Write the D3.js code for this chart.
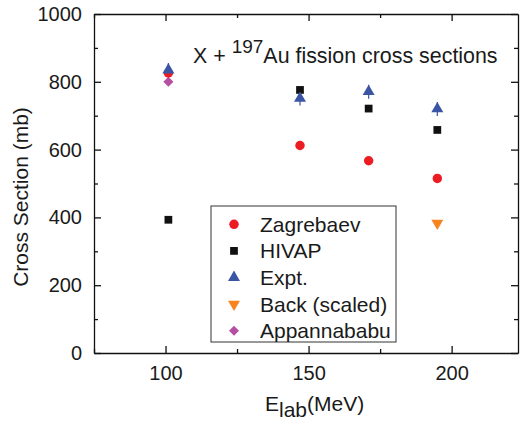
<!DOCTYPE html>
<html lang="en">
<head>
  <meta charset="UTF-8">
  <title>Au fission cross sections</title>
  <style type="text/css">
    body{
      margin: 0;
      background: #fff;
      font-family: "Liberation Sans", Arial, sans-serif;
    }
    .axis path,
    .axis line{
      stroke: #111;
      stroke-width: 1.3px;
      fill: none;
    }
    .axis text{
      font-size: 20px;
      fill: #1a1a1a;
    }
    .label{
      font-size: 21px;
      fill: #1a1a1a;
    }
    .legend text{
      font-size: 21px;
      fill: #1a1a1a;
    }
  </style>
  <script type="text/javascript" src="https://d3js.org/d3.v7.min.js"></script>
</head>
<body>
<script type="text/javascript">
  // values
  var zagX = [101, 147, 171, 195];
  var zagY = [826, 612, 567, 515];
  var hivapX = [101, 147, 171, 195];
  var hivapY = [393, 776, 721, 658];
  var exptX = [101, 147, 171, 195];
  var exptY = [835, 751, 771, 720];
  var backX = [195];
  var backY = [383];
  var appX = [101];
  var appY = [800];

  var xTicks = [100, 150, 200];
  var xMinor = [75, 125, 175, 225];
  var yTicks = [0, 200, 400, 600, 800, 1000];
  var yMinor = [100, 300, 500, 700, 900];

  var seriesNames = ['Zagrebaev', 'HIVAP', 'Expt.', 'Back (scaled)', 'Appannababu'];

  var width = 520, height = 424;
  var plotL = 94, plotR = 518, plotT = 14, plotB = 353;

  var svg = d3.select('body')
    .append('svg')
    .attr('width', width)
    .attr('height', height);

  var xScale = d3.scaleLinear().domain([75, 223.2]).range([plotL, plotR]);
  var yScale = d3.scaleLinear().domain([0, 1000]).range([plotB, plotT]);

  function drawAxis(axis, tr, minorAxis, showText){
    var g = svg.append('g')
      .attr('class', 'axis')
      .attr('transform', tr)
      .call(axis);
    if (!showText) g.selectAll('text').remove();
    svg.append('g')
      .attr('class', 'axis')
      .attr('transform', tr)
      .call(minorAxis)
      .call(function(s){ s.select('.domain').remove(); s.selectAll('text').remove(); });
    return g;
  }

  // bottom / top
  drawAxis(d3.axisBottom(xScale).tickValues(xTicks).tickSizeInner(-7).tickSizeOuter(0).tickPadding(13),
    'translate(0,' + plotB + ')',
    d3.axisBottom(xScale).tickValues(xMinor).tickSizeInner(-4).tickSizeOuter(0), true);
  drawAxis(d3.axisTop(xScale).tickValues(xTicks).tickSizeInner(-7).tickSizeOuter(0),
    'translate(0,' + plotT + ')',
    d3.axisTop(xScale).tickValues(xMinor).tickSizeInner(-4).tickSizeOuter(0), false);
  // left / right
  drawAxis(d3.axisLeft(yScale).tickValues(yTicks).tickSizeInner(-7).tickSizeOuter(0).tickPadding(12).tickFormat(d3.format('d')),
    'translate(' + plotL + ',0)',
    d3.axisLeft(yScale).tickValues(yMinor).tickSizeInner(-4).tickSizeOuter(0), true);
  drawAxis(d3.axisRight(yScale).tickValues(yTicks).tickSizeInner(-7).tickSizeOuter(0),
    'translate(' + plotR + ',0)',
    d3.axisRight(yScale).tickValues(yMinor).tickSizeInner(-4).tickSizeOuter(0), false);

  svg.selectAll('.axis').attr('font-family', null).attr('font-size', null);

  // axis titles
  svg.append('text')
    .attr('class', 'label')
    .attr('text-anchor', 'middle')
    .attr('transform', 'translate(28,197) rotate(-90)')
    .text('Cross Section (mb)');

  var xl = svg.append('text')
    .attr('class', 'label')
    .attr('x', 265)
    .attr('y', 411);
  xl.append('tspan').text('E');
  xl.append('tspan').attr('dy', 6).text('lab');
  xl.append('tspan').attr('dy', -6).text('(MeV)');

  var tl = svg.append('text')
    .attr('class', 'label')
    .attr('x', 193)
    .attr('y', 63)
    .style('font-size', '21.4px');
  tl.append('tspan').text('X + ');
  tl.append('tspan').attr('dy', -10).style('font-size', '19px').text('197');
  tl.append('tspan').attr('dy', 10).text('Au fission cross sections');

  // symbols (diamond = square turned 45 degrees)
  var sym = {
    'Zagrebaev':     {type: d3.symbolCircle,   size: 70, color: '#ec1c24', rot: 0},
    'HIVAP':         {type: d3.symbolSquare,   size: 60, color: '#111111', rot: 0},
    'Expt.':         {type: d3.symbolTriangle, size: 62, color: '#3a55a4', rot: 0},
    'Back (scaled)': {type: d3.symbolTriangle, size: 62, color: '#f7841f', rot: 180},
    'Appannababu':   {type: d3.symbolSquare,   size: 50, color: '#b44fa4', rot: 45}
  };

  function pts(xs, ys){ return xs.map(function(x, i){ return {x: x, y: ys[i]}; }); }

  var series = [
    {name: 'HIVAP', data: pts(hivapX, hivapY)},
    {name: 'Appannababu', data: pts(appX, appY)},
    {name: 'Zagrebaev', data: pts(zagX, zagY)},
    {name: 'Back (scaled)', data: pts(backX, backY)},
    {name: 'Expt.', data: pts(exptX, exptY)}
  ];

  // small error bars on expt
  svg.selectAll('.err')
    .data(pts(exptX, exptY))
    .enter().append('line')
    .attr('x1', function(d){ return xScale(d.x); })
    .attr('x2', function(d){ return xScale(d.x); })
    .attr('y1', function(d){ return yScale(d.y) - 7; })
    .attr('y2', function(d){ return yScale(d.y) + 7; })
    .attr('stroke', sym['Expt.'].color)
    .attr('stroke-width', 1.2);

  series.forEach(function(s){
    var st = sym[s.name];
    svg.selectAll('.m' + s.name.replace(/\W/g, ''))
      .data(s.data)
      .enter().append('path')
      .attr('d', d3.symbol().type(st.type).size(st.size))
      .attr('transform', function(d){
        return 'translate(' + xScale(d.x) + ',' + yScale(d.y) + ') rotate(' + st.rot + ')';
      })
      .attr('fill', st.color);
  });

  // legend
  var legend = svg.append('g').attr('class', 'legend');
  legend.append('rect')
    .attr('x', 211).attr('y', 206)
    .attr('width', 185).attr('height', 136)
    .attr('fill', '#fff')
    .attr('stroke', '#333')
    .attr('stroke-width', 1);

  var items = legend.selectAll('.item')
    .data(seriesNames)
    .enter().append('g')
    .attr('transform', function(d, i){ return 'translate(234,' + (224.3 + i * 26.6) + ')'; });
  items.append('path')
    .attr('d', function(d){ return d3.symbol().type(sym[d].type).size(sym[d].size)(); })
    .attr('transform', function(d){ return 'rotate(' + sym[d].rot + ')'; })
    .attr('fill', function(d){ return sym[d].color; });
  items.append('text')
    .attr('x', 26)
    .attr('dy', '0.36em')
    .text(function(d){ return d; });
</script>
</body>
</html>
